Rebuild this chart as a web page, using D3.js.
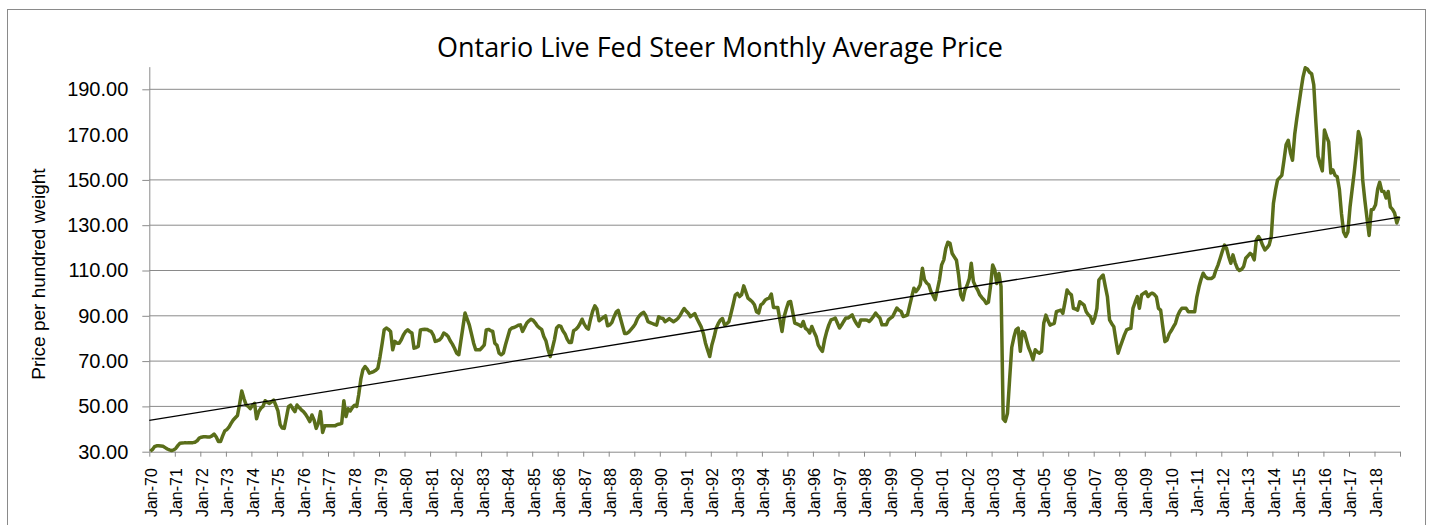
<!DOCTYPE html>
<html>
<head>
<meta charset="utf-8">
<script src="https://cdn.jsdelivr.net/npm/d3@7"></script>
<style>
  body { margin: 0; background: #fff; }
  svg text { font-family: "Liberation Sans", Arial, sans-serif; fill: #000; }
</style>
</head>
<body>
<div id="chart"></div>
<script>
// monthly values, Jan-1970 .. Dec-2018 (one row per year)
var startYear = 1970;
var yTicks = [30, 50, 70, 90, 110, 130, 150, 170, 190];
var monthlyPrice = [
  30.2, 31.0, 32.2, 32.6, 32.6, 32.5, 32.4, 31.8, 31.2, 30.8, 30.5, 30.8,   // 1970
  31.5, 32.8, 33.7, 33.8, 33.9, 33.9, 34.0, 34.0, 34.0, 34.2, 34.8, 36.0,   // 1971
  36.4, 36.6, 36.6, 36.5, 36.5, 37.0, 37.8, 36.5, 34.5, 34.5, 37.0, 39.2,   // 1972
  39.8, 41.0, 42.5, 44.0, 45.0, 46.0, 51.0, 56.8, 53.5, 50.8, 50.0, 49.0,   // 1973
  50.5, 51.3, 44.5, 47.7, 49.2, 50.0, 52.5, 51.8, 51.3, 52.0, 52.8, 50.5,   // 1974
  48.0, 42.0, 40.5, 40.3, 45.0, 49.9, 50.6, 49.0, 47.7, 50.6, 49.5, 48.5,   // 1975
  47.7, 46.5, 45.0, 43.3, 46.2, 44.0, 40.3, 42.5, 47.7, 38.5, 41.5, 41.5,   // 1976
  41.5, 41.5, 41.5, 41.5, 42.0, 42.2, 42.5, 52.5, 45.5, 49.0, 48.0, 49.5,   // 1977
  50.5, 50.0, 55.0, 62.0, 66.2, 67.6, 66.5, 64.7, 65.0, 65.4, 66.0, 66.9,   // 1978
  72.0, 78.0, 83.8, 84.6, 84.0, 83.1, 75.0, 78.7, 77.9, 77.9, 79.4, 81.5,   // 1979
  83.0, 83.8, 83.0, 82.4, 75.7, 76.0, 76.5, 83.8, 84.0, 84.1, 84.0, 83.5,   // 1980
  83.1, 81.5, 78.7, 79.0, 79.4, 80.5, 82.4, 81.8, 80.9, 79.0, 77.5, 75.7,   // 1981
  73.5, 72.8, 78.7, 85.0, 91.2, 88.5, 86.0, 82.0, 77.9, 75.0, 75.0, 75.0,   // 1982
  76.0, 77.2, 83.8, 84.0, 83.5, 83.1, 77.9, 77.0, 73.5, 72.8, 73.5, 77.2,   // 1983
  80.5, 83.8, 84.6, 84.8, 85.3, 85.8, 86.0, 83.1, 85.0, 86.8, 87.8, 88.5,   // 1984
  88.0, 86.8, 85.5, 84.6, 84.0, 80.9, 79.0, 75.0, 72.0, 75.5, 79.5, 84.6,   // 1985
  85.6, 85.3, 83.4, 82.0, 79.7, 78.2, 78.2, 83.4, 84.0, 84.9, 86.5, 88.5,   // 1986
  86.3, 84.8, 84.1, 88.5, 92.0, 94.4, 93.0, 87.8, 88.5, 89.3, 90.0, 85.6,   // 1987
  86.0, 87.1, 89.5, 91.6, 92.4, 89.0, 85.6, 82.2, 82.2, 82.9, 84.0, 85.1,   // 1988
  86.5, 88.8, 90.0, 91.0, 91.5, 90.0, 87.4, 87.0, 86.6, 86.2, 85.9, 89.6,   // 1989
  89.0, 88.8, 87.4, 88.0, 88.8, 88.0, 87.4, 88.0, 88.8, 90.0, 91.8, 93.2,   // 1990
  92.0, 91.0, 89.6, 90.3, 91.0, 88.8, 87.0, 85.1, 82.2, 78.0, 74.9, 72.0,   // 1991
  77.1, 80.5, 84.4, 86.5, 88.1, 88.8, 85.9, 86.5, 87.4, 91.0, 95.0, 99.1,   // 1992
  99.9, 98.5, 99.3, 103.2, 100.6, 97.8, 97.0, 96.2, 94.9, 91.8, 91.2, 94.8, // 1993
  95.5, 96.9, 97.5, 97.8, 99.6, 93.7, 93.7, 93.7, 88.2, 83.1, 89.7, 93.0,   // 1994
  96.0, 96.3, 91.9, 86.8, 86.4, 86.0, 85.3, 87.5, 84.5, 83.8, 82.4, 85.3,   // 1995
  83.0, 80.9, 77.2, 75.5, 74.3, 79.4, 83.0, 86.0, 88.2, 88.5, 89.0, 86.8,   // 1996
  84.6, 86.0, 87.5, 89.0, 89.0, 89.7, 90.4, 88.2, 86.5, 85.3, 88.2, 88.2,   // 1997
  88.2, 88.0, 87.5, 88.5, 89.7, 91.2, 90.0, 89.0, 86.0, 86.0, 86.0, 88.2,   // 1998
  89.0, 89.7, 91.5, 93.4, 92.5, 91.9, 89.7, 90.0, 90.4, 94.5, 98.5, 102.2,  // 1999
  100.7, 102.0, 103.7, 111.0, 105.9, 104.5, 103.7, 100.7, 99.0, 97.1, 101.5, 105.9, // 2000
  112.5, 114.7, 119.7, 122.5, 122.0, 117.5, 116.0, 114.5, 108.0, 99.3, 97.0, 101.4, // 2001
  103.5, 106.4, 113.2, 105.1, 103.0, 101.4, 99.2, 98.0, 97.0, 95.5, 96.0, 102.9,    // 2002
  112.4, 110.2, 104.3, 108.7, 102.9, 44.5, 43.4, 47.0, 62.0, 76.0, 80.5, 83.8,      // 2003
  84.6, 74.3, 83.1, 82.4, 79.0, 75.7, 73.5, 70.6, 75.0, 74.0, 73.5, 74.3,   // 2004
  86.7, 90.3, 88.0, 85.9, 86.3, 86.7, 91.8, 92.2, 92.5, 91.1, 96.0, 101.4,  // 2005
  100.0, 99.2, 93.3, 93.0, 92.5, 96.2, 95.5, 94.7, 91.8, 90.5, 89.6, 86.7,  // 2006
  89.0, 93.3, 105.8, 107.0, 108.0, 103.0, 98.5, 88.2, 86.5, 85.2, 79.0, 73.5, // 2007
  76.4, 79.0, 81.6, 83.8, 84.2, 84.5, 93.3, 96.0, 98.5, 93.3, 99.2, 99.9,   // 2008
  100.6, 98.5, 99.5, 100.0, 99.5, 98.4, 93.3, 92.5, 85.2, 78.6, 79.3, 82.0, // 2009
  83.5, 85.2, 86.7, 90.0, 92.0, 93.3, 93.3, 93.3, 91.8, 91.8, 91.8, 91.8,   // 2010
  98.4, 102.8, 106.0, 108.8, 107.3, 106.5, 106.5, 106.5, 107.3, 110.2, 112.5, 115.4, // 2011
  118.5, 121.2, 119.8, 116.1, 113.2, 116.9, 113.5, 111.0, 110.0, 110.5, 111.8, 115.4, // 2012
  116.5, 117.6, 116.9, 114.7, 123.5, 125.0, 123.5, 121.0, 119.1, 120.0, 121.3, 125.0, // 2013
  139.7, 145.7, 150.0, 151.0, 152.0, 158.7, 165.5, 167.5, 162.0, 158.7, 170.0, 177.0, // 2014
  183.5, 190.0, 195.5, 199.5, 199.0, 197.5, 196.9, 192.0, 175.0, 160.4, 157.0, 154.0, // 2015
  172.0, 169.1, 166.8, 153.0, 154.4, 152.0, 151.4, 146.0, 135.0, 127.0, 125.0, 127.0, // 2016
  138.0, 146.0, 153.0, 162.0, 171.4, 168.0, 150.0, 141.0, 133.0, 125.5, 136.8, 137.0, // 2017
  139.0, 146.0, 149.0, 145.0, 144.9, 142.0, 144.9, 138.0, 137.0, 135.3, 131.0, 133.8  // 2018
];

var svgWidth = 1430;
var svgHeight = 525;

var margin = {top: 66.65, right: 30, bottom: 73.3, left: 149.3};
var width = svgWidth - margin.left - margin.right;
var height = svgHeight - margin.top - margin.bottom;

var gridColor = "#8a8a8a";

var svg = d3.select("#chart")
  .append("svg")
  .attr("width", svgWidth)
  .attr("height", svgHeight)
  .style("display", "block");

svg.append("rect")
  .attr("width", svgWidth)
  .attr("height", svgHeight)
  .attr("fill", "#fff");

// outer chart frame (bottom edge is cut off in the original)
svg.append("rect")
  .attr("x", 7.5)
  .attr("y", 9.5)
  .attr("width", 1418)
  .attr("height", 540)
  .attr("fill", "none")
  .attr("stroke", gridColor)
  .attr("stroke-width", 1);

var data = monthlyPrice.map(function(v, i) {
  return {i: i, date: new Date(startYear, i, 16), value: v};
});

var x = d3.scaleTime()
  .domain([new Date(startYear, 0, 1), new Date(startYear, monthlyPrice.length, 1)])
  .range([0, width]);

var y = d3.scaleLinear()
  .domain([30, 200])
  .range([height, 0]);

var chartGroup = svg.append("g")
  .attr("transform", `translate(${margin.left}, ${margin.top})`);

// horizontal gridlines
chartGroup.append("g")
  .selectAll("line")
  .data(yTicks.filter(d => d !== 30 && d !== 170))
  .enter()
  .append("line")
  .attr("x1", 0)
  .attr("x2", width)
  .attr("y1", d => y(d))
  .attr("y2", d => y(d))
  .attr("stroke", gridColor)
  .attr("stroke-width", 1);

// y axis
var yAxis = d3.axisLeft(y)
  .tickValues(yTicks)
  .tickFormat(d3.format(".2f"))
  .tickSize(7)
  .tickSizeOuter(0)
  .tickPadding(14);

var yAxisG = chartGroup.append("g").call(yAxis);
yAxisG.attr("font-family", null).attr("font-size", null);
yAxisG.select(".domain").attr("stroke", gridColor);
yAxisG.selectAll(".tick line").attr("stroke", gridColor);
yAxisG.selectAll(".tick").filter(d => d === 170).select("line").remove();
yAxisG.selectAll("text").style("font-size", "20px");

// x axis, one tick per January
var yearTicks = d3.range(0, monthlyPrice.length + 1, 12).map(m => new Date(startYear, m, 1));
var fmt = d3.timeFormat("%b-%y");

var xAxis = d3.axisBottom(x)
  .tickValues(yearTicks)
  .tickFormat((d, i) => i < yearTicks.length - 1 ? fmt(d) : "")
  .tickSize(5)
  .tickSizeOuter(0);

var xAxisG = chartGroup.append("g")
  .attr("transform", `translate(0, ${height})`)
  .call(xAxis);
xAxisG.attr("font-family", null).attr("font-size", null);
xAxisG.select(".domain").attr("stroke", gridColor);
xAxisG.selectAll(".tick line").attr("stroke", gridColor);
xAxisG.selectAll("text")
  .attr("x", 0)
  .attr("y", 0)
  .attr("dy", null)
  .attr("text-anchor", "end")
  .attr("transform", "translate(7, 16.5) rotate(-90)")
  .style("font-size", "16px");

// price line
var line = d3.line()
  .x(d => x(d.date))
  .y(d => y(d.value));

chartGroup.append("path")
  .datum(data)
  .attr("d", line)
  .attr("fill", "none")
  .attr("stroke", "#5a6e1a")
  .attr("stroke-width", 3.5)
  .attr("stroke-linejoin", "round");

// linear trendline (least squares on month index)
var meanI = d3.mean(data, d => d.i);
var meanV = d3.mean(data, d => d.value);
var slope = d3.sum(data, d => (d.i - meanI) * (d.value - meanV)) /
            d3.sum(data, d => (d.i - meanI) * (d.i - meanI));
var intercept = meanV - slope * meanI;

chartGroup.append("line")
  .attr("x1", 0)
  .attr("x2", width)
  .attr("y1", y(intercept + slope * -0.5))
  .attr("y2", y(intercept + slope * (monthlyPrice.length - 0.5)))
  .attr("stroke", "#000")
  .attr("stroke-width", 1.3);

// title
svg.append("text")
  .attr("x", 720)
  .attr("y", 57)
  .attr("text-anchor", "middle")
  .attr("textLength", 566)
  .attr("lengthAdjust", "spacingAndGlyphs")
  .style("font-family", "'Open Sans', sans-serif")
  .style("font-size", "27px")
  .text("Ontario Live Fed Steer Monthly Average Price");

// y axis label
svg.append("text")
  .attr("transform", "translate(45, 274) rotate(-90)")
  .attr("text-anchor", "middle")
  .style("font-size", "19px")
  .text("Price per hundred weight");
</script>
</body>
</html>
